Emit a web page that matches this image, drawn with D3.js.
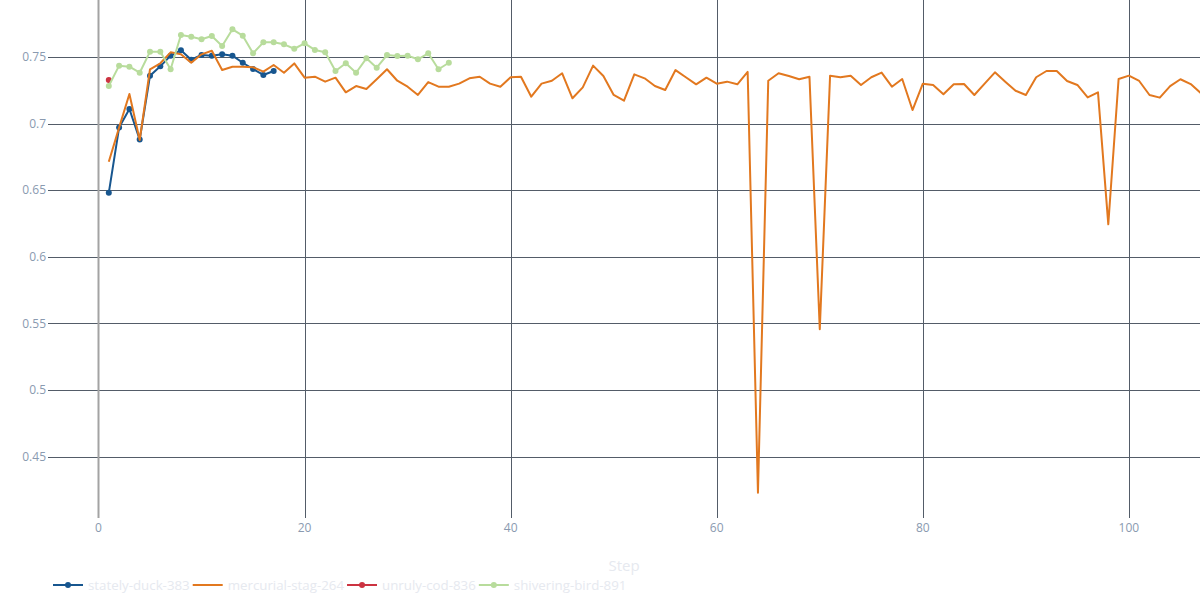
<!DOCTYPE html>
<html>
<head>
<meta charset="utf-8">
<script src="https://cdn.jsdelivr.net/npm/d3@7"></script>
<style>
  body { margin: 0; background: #fff; }
  text { font-family: "Open Sans", "DejaVu Sans", sans-serif; }
</style>
</head>
<body>
<script>
// run names, in legend order
const runNames = ["stately-duck-383", "mercurial-stag-264", "unruly-cod-836", "shivering-bird-891"];
const runColors = ["#17568f", "#e2781f", "#cc3341", "#b8dc9c"];
const runMarkers = [true, false, true, true];

const duckVals = [0.648, 0.697, 0.711, 0.688, 0.736, 0.743, 0.751, 0.755, 0.748, 0.7515,
  0.751, 0.752, 0.751, 0.7457, 0.741, 0.7365, 0.7395];

const stagVals = [0.6714, 0.697, 0.7222, 0.6877, 0.7408, 0.7453, 0.7535, 0.752, 0.7457, 0.752,
  0.7547, 0.7402, 0.7427, 0.7427, 0.7423, 0.739, 0.744, 0.7382, 0.7452, 0.7345,
  0.7352, 0.7315, 0.7345, 0.7235, 0.7282, 0.726, 0.7333, 0.7408, 0.7322, 0.7277,
  0.7215, 0.7312, 0.7277, 0.7277, 0.730, 0.734, 0.7352, 0.730, 0.7277, 0.7348,
  0.7352, 0.7202, 0.730, 0.7322, 0.7378, 0.719, 0.7272, 0.7435, 0.7357, 0.7215,
  0.7172, 0.737, 0.734, 0.7282, 0.7252, 0.7402, 0.7348, 0.7295, 0.7345, 0.730,
  0.7315, 0.7295, 0.7388, 0.4228, 0.7322, 0.7378, 0.7357, 0.7333, 0.7352, 0.5456,
  0.736, 0.7348, 0.736, 0.729, 0.7348, 0.7383, 0.7277, 0.7335, 0.7102, 0.730,
  0.729, 0.722, 0.7295, 0.7297, 0.7215, 0.730, 0.7385, 0.7315, 0.7247, 0.7215,
  0.7348, 0.7395, 0.7395, 0.732, 0.729, 0.7197, 0.7235, 0.6244, 0.7335, 0.736,
  0.732, 0.7215, 0.7195, 0.7282, 0.7333, 0.7297, 0.7227];

const codVals = [0.7327];

const birdVals = [0.7282, 0.7435, 0.7427, 0.7382, 0.754, 0.754, 0.7408, 0.7665, 0.7652, 0.7633,
  0.7658, 0.7583, 0.7708, 0.766, 0.7528, 0.761, 0.761, 0.7595, 0.7562, 0.7603,
  0.7553, 0.7535, 0.7395, 0.7453, 0.7382, 0.749, 0.742, 0.7515, 0.7508, 0.751,
  0.7483, 0.7528, 0.7408, 0.7457];

const xTicks = [0, 20, 40, 60, 80, 100];
const yTicks = [0.45, 0.5, 0.55, 0.6, 0.65, 0.7, 0.75];

const series = [duckVals, stagVals, codVals, birdVals].map((vals, i) => ({
  name: runNames[i], color: runColors[i], markers: runMarkers[i],
  points: vals.map((v, j) => ({ step: j + 1, value: v }))
}));

const W = 1200, H = 600;
const pLeft = 48, pRight = 1200, pTop = 0, pBottom = 518;

const svg = d3.select("body").append("svg").attr("width", W).attr("height", H);

const x = d3.scaleLinear().domain([-4.9, 106.9]).range([pLeft, pRight]);
const y = d3.scaleLinear().domain([0.4039, 0.7928]).range([pBottom, pTop]);

svg.append("clipPath").attr("id", "plot")
  .append("rect").attr("x", pLeft).attr("y", pTop).attr("width", pRight - pLeft).attr("height", pBottom - pTop);

// grid
svg.append("g").selectAll("line").data(yTicks).join("line")
  .attr("x1", pLeft).attr("x2", pRight)
  .attr("y1", d => Math.round(y(d)) + 0.5).attr("y2", d => Math.round(y(d)) + 0.5)
  .attr("stroke", "#535c68").attr("stroke-width", 1);

svg.append("g").selectAll("line").data(xTicks.filter(d => d !== 0)).join("line")
  .attr("x1", d => Math.round(x(d)) + 0.5).attr("x2", d => Math.round(x(d)) + 0.5)
  .attr("y1", pTop).attr("y2", pBottom)
  .attr("stroke", "#535c68").attr("stroke-width", 1);

// zero line
svg.append("line")
  .attr("x1", Math.round(x(0)) + 0.5).attr("x2", Math.round(x(0)) + 0.5).attr("y1", pTop).attr("y2", pBottom)
  .attr("stroke", "#a3a3a3").attr("stroke-width", 2);

// tick labels
svg.append("g").selectAll("text").data(yTicks).join("text")
  .attr("x", pLeft - 2).attr("y", d => y(d)).attr("dy", "0.35em")
  .attr("text-anchor", "end").attr("font-size", 12).attr("fill", "#8a9ab0")
  .text(d => d3.format("~g")(d));

svg.append("g").selectAll("text").data(xTicks).join("text")
  .attr("x", d => x(d)).attr("y", 532)
  .attr("text-anchor", "middle").attr("font-size", 12).attr("fill", "#8a9ab0")
  .text(d => d);

svg.append("text").attr("x", 624).attr("y", 571)
  .attr("text-anchor", "middle").attr("font-size", 15).attr("fill", "#e6e9ef")
  .text("Step");

// lines
const line = d3.line().x(d => x(d.step)).y(d => y(d.value));
const plot = svg.append("g").attr("clip-path", "url(#plot)");

const groups = plot.selectAll("g.run").data(series).join("g").attr("class", "run");
groups.append("path")
  .attr("d", d => line(d.points))
  .attr("fill", "none").attr("stroke", d => d.color).attr("stroke-width", 2)
  .attr("stroke-linejoin", "round");
groups.filter(d => d.markers).selectAll("circle").data(d => d.points.map(p => ({ p, c: d.color }))).join("circle")
  .attr("cx", d => x(d.p.step)).attr("cy", d => y(d.p.value)).attr("r", 3)
  .attr("fill", d => d.c);

// legend
const legend = svg.append("g").attr("transform", "translate(53,585)");
let lx = 0;
series.forEach(s => {
  const g = legend.append("g").attr("transform", `translate(${lx},0)`);
  g.append("line").attr("x1", 0).attr("x2", 30).attr("y1", 0).attr("y2", 0)
    .attr("stroke", s.color).attr("stroke-width", 2);
  if (s.markers) g.append("circle").attr("cx", 15).attr("cy", 0).attr("r", 3).attr("fill", s.color);
  const t = g.append("text").attr("x", 35).attr("y", 0).attr("dy", "0.35em")
    .attr("font-size", 13.3).attr("fill", "#e6e9ef").text(s.name);
  lx += 35 + t.node().getComputedTextLength() + 3;
});
</script>
</body>
</html>
